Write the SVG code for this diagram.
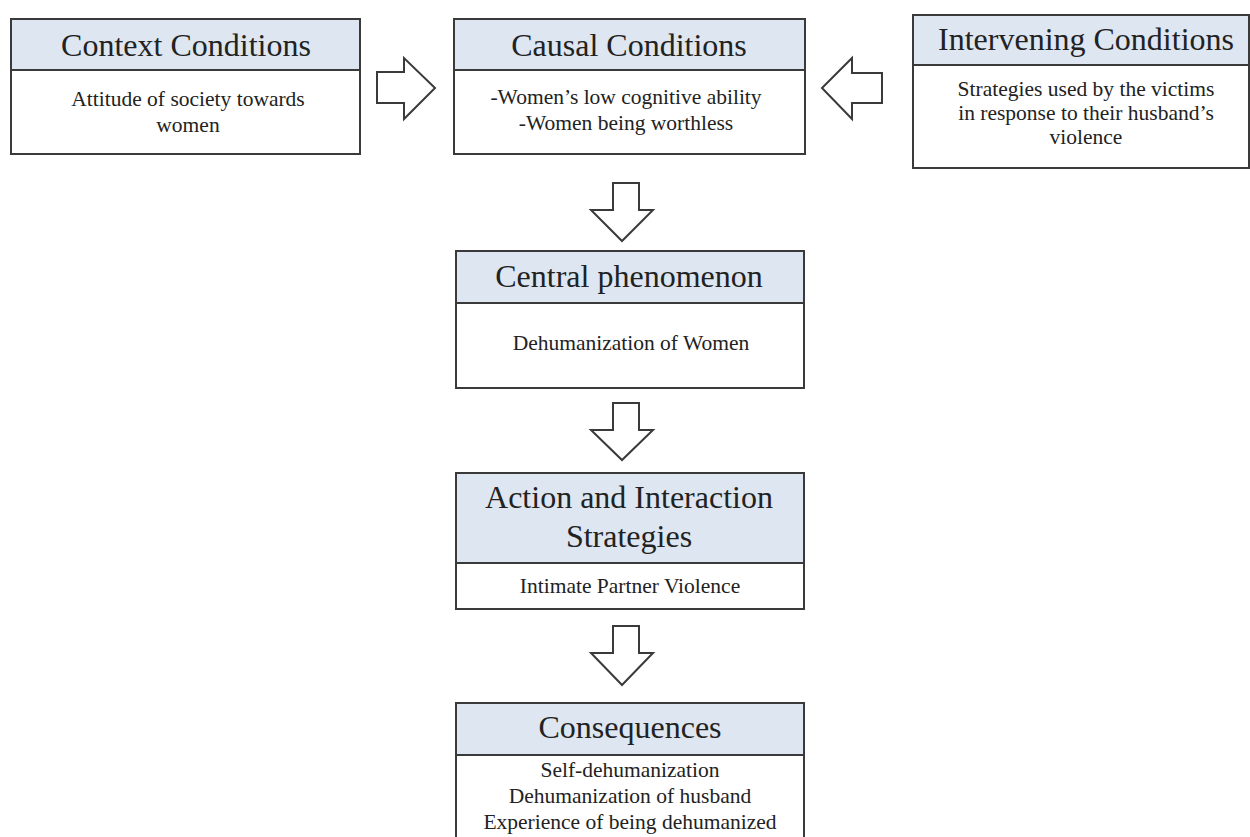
<svg xmlns="http://www.w3.org/2000/svg" width="1250" height="837" viewBox="0 0 1250 837">
<style>
.box{fill:#ffffff;stroke:#3a3a3a;stroke-width:2}
.hdr{fill:#dde6f1;stroke:#3a3a3a;stroke-width:2}
.arr{fill:#ffffff;stroke:#3a3a3a;stroke-width:2;stroke-linejoin:miter}
.h{font-family:"Liberation Serif","Times New Roman",serif;font-size:32px;fill:#222;text-anchor:middle}
.b{font-family:"Liberation Serif","Times New Roman",serif;font-size:21.5px;fill:#222;text-anchor:middle}
</style>
<rect width="1250" height="837" fill="#ffffff"/>
<g id="connectors">
<path class="arr" d="M377,72 L404,72 L404,58 L435,88 L404,119 L404,103 L377,103 Z"/>
<path class="arr" d="M882,73 L852,73 L852,58 L822,88 L852,119 L852,103 L882,103 Z"/>
<path class="arr" d="M613,183 L639,183 L639,210 L653,210 L622,241 L591,210 L613,210 Z"/>
<path class="arr" d="M613,403 L639,403 L639,430 L653,430 L622,460 L591,430 L613,430 Z"/>
<path class="arr" d="M613,626 L639,626 L639,653 L653,653 L622,685 L591,653 L613,653 Z"/>
</g>
<g id="context">
<rect class="box" x="11" y="19" width="349" height="135"/>
<rect class="hdr" x="11" y="19" width="349" height="51"/>
<text class="h" x="186" y="56">Context Conditions</text>
<text class="b" x="188" y="106">Attitude of society towards</text>
<text class="b" x="188" y="132">women</text>
</g>
<g id="causal">
<rect class="box" x="454" y="19" width="351" height="135"/>
<rect class="hdr" x="454" y="19" width="351" height="51"/>
<text class="h" x="629" y="56">Causal Conditions</text>
<text class="b" x="626" y="104">-Women’s low cognitive ability</text>
<text class="b" x="626" y="130">-Women being worthless</text>
</g>
<g id="intervening">
<rect class="box" x="913" y="15" width="336" height="153"/>
<rect class="hdr" x="913" y="15" width="336" height="50"/>
<text class="h" x="1086" y="50">Intervening Conditions</text>
<text class="b" x="1086" y="96">Strategies used by the victims</text>
<text class="b" x="1086" y="120">in response to their husband’s</text>
<text class="b" x="1086" y="144">violence</text>
</g>
<g id="central">
<rect class="box" x="456" y="251" width="348" height="137"/>
<rect class="hdr" x="456" y="251" width="348" height="52"/>
<text class="h" x="629" y="287">Central phenomenon</text>
<text class="b" x="631" y="350">Dehumanization of Women</text>
</g>
<g id="action">
<rect class="box" x="456" y="473" width="348" height="136"/>
<rect class="hdr" x="456" y="473" width="348" height="90"/>
<text class="h" x="629" y="508">Action and Interaction</text>
<text class="h" x="629" y="547">Strategies</text>
<text class="b" x="630" y="593">Intimate Partner Violence</text>
</g>
<g id="consequences">
<rect class="box" x="456" y="703" width="348" height="160"/>
<rect class="hdr" x="456" y="703" width="348" height="52"/>
<text class="h" x="630" y="738">Consequences</text>
<text class="b" x="630" y="777">Self-dehumanization</text>
<text class="b" x="630" y="803">Dehumanization of husband</text>
<text class="b" x="630" y="829">Experience of being dehumanized</text>
</g>
</svg>
